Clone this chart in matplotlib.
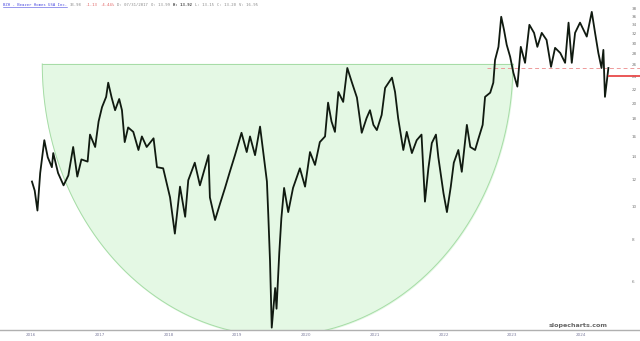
import numpy as np
import matplotlib
matplotlib.use('Agg')
import matplotlib.pyplot as plt
from matplotlib.ticker import FixedLocator, NullLocator, NullFormatter

# BZH daily closes (decimal years, price in $)
dates = [
    2016.71, 2016.75, 2016.79, 2016.83, 2016.89, 2016.94, 2017.00, 2017.02, 2017.09, 2017.17,
    2017.24, 2017.31, 2017.37, 2017.43, 2017.52, 2017.555, 2017.63, 2017.68, 2017.73, 2017.79,
    2017.82, 2017.87, 2017.92, 2017.98, 2018.02, 2018.06, 2018.11, 2018.185, 2018.26, 2018.31,
    2018.38, 2018.48, 2018.53, 2018.62, 2018.67, 2018.72, 2018.79, 2018.865, 2018.94, 2018.985,
    2019.08, 2019.155, 2019.28, 2019.30, 2019.375, 2019.45, 2019.52, 2019.59, 2019.665, 2019.76,
    2019.836, 2019.884, 2019.957, 2020.03, 2020.10, 2020.13, 2020.15, 2020.175, 2020.20, 2020.25,
    2020.27, 2020.31, 2020.34, 2020.38, 2020.44, 2020.51, 2020.61, 2020.685, 2020.757, 2020.83,
    2020.90, 2020.976, 2021.02, 2021.07, 2021.12, 2021.17, 2021.24, 2021.30, 2021.365, 2021.44,
    2021.51, 2021.58, 2021.63, 2021.68, 2021.73, 2021.80, 2021.85, 2021.95, 2021.995, 2022.04,
    2022.115, 2022.165, 2022.24, 2022.31, 2022.38, 2022.43, 2022.48, 2022.53, 2022.59, 2022.625,
    2022.70, 2022.75, 2022.806, 2022.85, 2022.916, 2022.966, 2023.04, 2023.09, 2023.16, 2023.21,
    2023.27, 2023.305, 2023.38, 2023.425, 2023.45, 2023.50, 2023.54, 2023.58, 2023.62, 2023.67,
    2023.717, 2023.775, 2023.825, 2023.887, 2023.95, 2024.018, 2024.066, 2024.13, 2024.20, 2024.265,
    2024.324, 2024.40, 2024.47, 2024.52, 2024.567, 2024.615, 2024.687, 2024.785, 2024.858, 2024.906,
    2024.954, 2025.00, 2025.027, 2025.05, 2025.10,
]
prices = [
    11.8, 11.1, 9.7, 12.5, 15.6, 13.9, 13.0, 14.3, 12.5, 11.5,
    12.3, 14.9, 12.2, 13.7, 13.5, 16.2, 14.9, 17.7, 19.5, 20.9,
    23.0, 20.8, 19.1, 20.6, 19.1, 15.4, 17.0, 16.5, 14.6, 16.0,
    14.9, 15.8, 13.0, 12.9, 11.7, 10.6, 8.3, 11.4, 9.3, 11.9,
    13.4, 11.5, 14.1, 10.6, 9.1, 10.2, 11.3, 12.6, 14.1, 16.4,
    14.4, 16.0, 14.1, 17.1, 13.2, 11.8, 9.4, 6.9, 4.4, 5.75,
    5.0, 7.3, 9.2, 11.3, 9.6, 11.3, 12.9, 11.4, 14.4, 13.2,
    15.4, 16.0, 20.1, 17.7, 16.5, 21.6, 20.2, 25.4, 23.1, 20.8,
    16.4, 18.1, 19.1, 17.3, 16.7, 18.5, 22.2, 23.8, 21.6, 18.1,
    14.6, 16.5, 14.3, 15.6, 16.2, 10.3, 12.9, 15.3, 16.2, 13.9,
    10.9, 9.6, 11.4, 13.4, 14.6, 12.6, 17.3, 14.9, 14.6, 15.8,
    17.3, 20.9, 21.5, 23.0, 26.8, 29.3, 35.9, 32.9, 29.7, 27.4,
    24.6, 22.4, 29.3, 26.3, 34.0, 32.2, 29.3, 32.2, 30.7, 25.6,
    29.1, 28.1, 26.3, 34.5, 26.3, 32.2, 34.5, 31.4, 37.1, 32.2,
    28.1, 25.4, 28.7, 20.9, 25.4,
]

last_price = 24.0
resistance = 25.4
resistance_from = 2023.33

# rounded-bottom "bowl" drawn on the chart
bowl_left = 2016.86
bowl_right = 2023.71
bowl_rim = 26.1
bowl_floor = 4.16

price_ticks = list(range(6, 40, 2))
year_pos = [2016.7 + k for k in range(9)]
year_labels = [str(2016 + k) for k in range(9)]

header = [
    ('BZH - Beazer Homes USA Inc.', '#4a4ae0', 'normal'),
    ('33.98', '#888888', 'normal'),
    ('-1.13', '#e06060', 'normal'),
    ('-4.44%', '#e06060', 'normal'),
    ('D: 07/31/2017', '#888888', 'normal'),
    ('O: 13.99', '#888888', 'normal'),
    ('H: 13.92', '#444444', 'bold'),
    ('L: 13.15', '#888888', 'normal'),
    ('C: 13.20', '#888888', 'normal'),
    ('V: 16.95', '#888888', 'normal'),
]

fig = plt.figure(figsize=(6.4, 3.41), dpi=100)
ax = fig.add_axes([0, 11 / 341, 1, 330 / 341])
ax.set_yscale('log')
ax.set_xlim(2016.245, 2025.56)
ax.set_ylim(4.33, 40.2)

# bowl as half ellipse in (time, log price)
theta = np.linspace(0, np.pi, 200)
cx = (bowl_left + bowl_right) / 2
hw = (bowl_right - bowl_left) / 2
lr, lf = np.log(bowl_rim), np.log(bowl_floor)
bx = cx + hw * np.cos(theta)
by = np.exp(lr - (lr - lf) * np.sin(theta))
ax.fill_between(bx, by, bowl_rim, color='#e4f8e4', zorder=1)
ax.plot(bx, by, color='#a6dca6', lw=0.7, zorder=1.5)
ax.plot([bowl_left, bowl_right], [bowl_rim, bowl_rim], color='#a6dca6', lw=0.7, zorder=1.5)

ax.plot(dates, prices, color='#101a10', lw=1.3, zorder=3)

ax.hlines(resistance, resistance_from, 2025.56, colors='#ee9a9a', linestyles=(0, (4, 3)),
          lw=0.7, zorder=2)
ax.hlines(last_price, dates[-1], 2025.56, colors='#e84a4a', lw=1.3, zorder=4)

for s in ['top', 'left', 'right']:
    ax.spines[s].set_visible(False)
ax.spines['bottom'].set_color('#b0b0b0')
ax.spines['bottom'].set_linewidth(1.0)

ax.yaxis.set_major_locator(FixedLocator(price_ticks))
ax.yaxis.set_minor_locator(NullLocator())
ax.yaxis.set_minor_formatter(NullFormatter())
ax.set_yticklabels([str(v) for v in price_ticks])
ax.yaxis.tick_right()
ax.tick_params(axis='y', length=0, pad=-6, labelsize=3, labelcolor='#777777')
for lab in ax.get_yticklabels():
    lab.set_horizontalalignment('left')

ax.set_xticks(year_pos)
ax.set_xticklabels(year_labels)
ax.tick_params(axis='x', length=0, pad=2, labelsize=3, labelcolor='#8080a0')

# header line, pieces placed one after another
renderer = fig.canvas.get_renderer()
ty = 1 - 4.5 / 341
xpos = 3 / 640
for i, (txt, col, wt) in enumerate(header):
    t = fig.text(xpos, ty, txt, color=col, fontweight=wt, family='DejaVu Sans Mono',
                 fontsize=2.8, va='center', ha='left')
    bb = t.get_window_extent(renderer)
    if i == 0:
        fig.add_artist(plt.Line2D([bb.x0 / 640, bb.x1 / 640], [ty - 2.3 / 341] * 2,
                                  color='#4a4ae0', lw=0.4))
    xpos = (bb.x1 + 3) / 640

fig.text(608 / 640, 1 - 326 / 341, 'slopecharts.com', color='#666666', fontsize=4.6,
         fontweight='bold', ha='right', va='center')

fig.savefig('out.png', dpi=100, facecolor='white')
